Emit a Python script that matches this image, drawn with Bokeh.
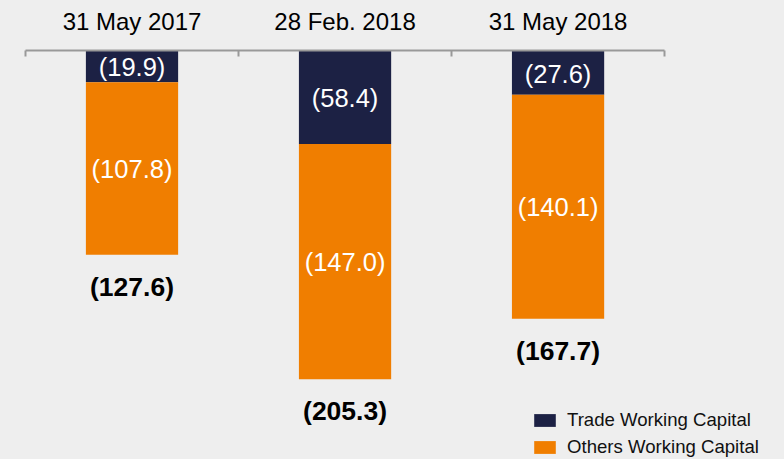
from bokeh.plotting import figure
from bokeh.models import Range1d, FixedTicker, ColumnDataSource
from bokeh.core.properties import value
from bokeh.embed import file_html
from bokeh.resources import INLINE

categories = ["31 May 2017", "28 Feb. 2018", "31 May 2018"]
trade = [19.9, 58.4, 27.6]
others = [107.8, 147.0, 140.1]
totals = [127.6, 205.3, 167.7]

BG = "#eeeeee"
NAVY = "#1c2144"
ORANGE = "#f07e00"
FONT = "Liberation Sans"

n = len(categories)
xs = [i + 0.5 for i in range(n)]
src = ColumnDataSource(dict(
    x=xs,
    trade=[-v for v in trade],
    others=[-v for v in others],
    trade_mid=[-v / 2 for v in trade],
    others_mid=[-(t + o / 2) for t, o in zip(trade, others)],
    end=[-(t + o) for t, o in zip(trade, others)],
    trade_lbl=["(%.1f)" % v for v in trade],
    others_lbl=["(%.1f)" % v for v in others],
    total_lbl=["(%.1f)" % v for v in totals],
))

p = figure(width=784, height=459, output_backend="svg", toolbar_location=None,
           x_range=Range1d(0, 3.563), y_range=Range1d(-255.6, 0),
           x_axis_location="above", y_axis_location=None,
           min_border_left=25, min_border_right=0, min_border_top=50,
           min_border_bottom=0)
p.background_fill_color = BG
p.border_fill_color = BG
p.outline_line_color = None
p.grid.visible = False

p.vbar_stack(["trade", "others"], x="x", width=0.433, source=src,
             color=[NAVY, ORANGE], line_color=None,
             legend_label=["Trade Working Capital", "Others Working Capital"])

p.text(x="x", y="trade_mid", text="trade_lbl", source=src, text_color="white",
       text_font=value(FONT), text_font_size="25.5px", text_align="center",
       text_baseline="middle", y_offset=1)
p.text(x="x", y="others_mid", text="others_lbl", source=src, text_color="white",
       text_font=value(FONT), text_font_size="25.5px", text_align="center",
       text_baseline="middle")
p.text(x="x", y="end", text="total_lbl", source=src, text_color="black",
       text_font=value(FONT), text_font_size="26.5px", text_font_style="bold",
       text_align="center", text_baseline="middle", y_offset=32)

ax = p.xaxis[0]
ax.bounds = (0, n)
ax.ticker = FixedTicker(ticks=xs, minor_ticks=list(range(n + 1)))
ax.major_label_overrides = {x: c for x, c in zip(xs, categories)}
ax.major_label_text_font = FONT
ax.major_label_text_font_size = "24px"
ax.major_label_text_color = "black"
ax.major_label_standoff = 16
ax.major_tick_in = 0
ax.major_tick_out = 0
ax.minor_tick_in = 6
ax.minor_tick_out = 0
ax.minor_tick_line_color = "#999999"
ax.minor_tick_line_width = 2
ax.axis_line_color = "#999999"
ax.axis_line_width = 2

leg = p.legend[0]
leg.location = (506, 1)
leg.background_fill_alpha = 0
leg.border_line_color = None
leg.padding = 0
leg.margin = 0
leg.spacing = 5
leg.glyph_width = 27
leg.glyph_height = 16
leg.label_height = 22
leg.label_standoff = 9
leg.label_text_font = FONT
leg.label_text_font_size = "18.6px"
leg.label_text_color = "#111111"

html = file_html(p, INLINE)
html = html.replace("</head>", "<style>html,body{background:%s;}</style></head>" % BG, 1)
open("out.html", "w").write(html)
